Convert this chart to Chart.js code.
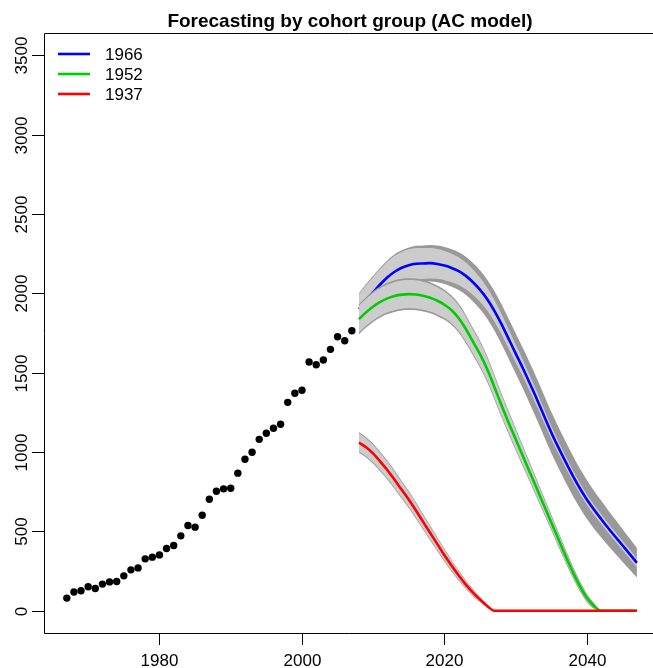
<!DOCTYPE html>
<html>
<head>
<meta charset="utf-8">
<script src="https://cdn.jsdelivr.net/npm/chart.js@4/dist/chart.umd.min.js"></script>
<style>
html,body{margin:0;padding:0;background:#fff;overflow:hidden;}
canvas{display:block;}
</style>
</head>
<body>
<canvas id="c" width="653" height="668"></canvas>
<script>
// ---------- data ----------
const obsYears = [1967,1968,1969,1970,1971,1972,1973,1974,1975,1976,1977,1978,1979,1980,1981,1982,1983,1984,1985,1986,1987,1988,1989,1990,1991,1992,1993,1994,1995,1996,1997,1998,1999,2000,2001,2002,2003,2004,2005,2006,2007];
const observed = [80,118,126,151,140,168,182,184,220,258,270,327,338,352,392,411,472,537,527,602,703,753,768,772,867,955,999,1080,1118,1150,1175,1313,1370,1389,1567,1550,1580,1647,1726,1701,1764];

const fcYears = [2008,2009,2010,2011,2012,2013,2014,2015,2016,2017,2018,2019,2020,2021,2022,2023,2024,2025,2026,2027,2028,2029,2030,2031,2032,2033,2034,2035,2036,2037,2038,2039,2040,2041,2042,2043,2044,2045,2046,2047];

// cohort 1966
const c1966 = [1900,1957,2007,2057,2101,2136,2161,2177,2186,2188,2190,2185,2175,2160,2140,2110,2070,2022,1963,1890,1806,1713,1620,1528,1430,1330,1225,1122,1028,938,852,772,700,636,577,520,465,411,357,302];
const c1966OuterHi = [2000,2059,2111,2163,2209,2246,2272,2289,2299,2302,2305,2301,2292,2278,2259,2230,2191,2144,2086,2014,1931,1839,1747,1656,1559,1460,1355,1252,1157,1066,979,897,822,755,693,632,573,514,455,395];
const c1966OuterLo = [1800,1855,1903,1951,1993,2026,2050,2065,2073,2074,2075,2069,2058,2042,2021,1990,1949,1900,1840,1766,1681,1587,1493,1400,1301,1200,1095,992,899,810,725,647,578,517,461,408,357,308,259,209];
const c1966InnerHi = [1992,2051,2103,2155,2200,2236,2261,2277,2285,2286,2286,2279,2267,2250,2227,2194,2150,2098,2035,1958,1870,1773,1676,1580,1479,1376,1268,1163,1067,975,887,806,733,668,608,550,495,440,386,330];
const c1966InnerLo = [1808,1863,1911,1959,2002,2036,2061,2077,2087,2090,2094,2091,2083,2070,2053,2026,1990,1946,1891,1822,1742,1653,1564,1476,1381,1284,1182,1081,989,901,817,738,667,604,546,490,435,382,328,274];

// cohort 1952
const c1952 = [1837,1880,1917,1946,1968,1983,1992,1995,1993,1985,1972,1953,1928,1893,1843,1775,1695,1615,1522,1410,1295,1185,1080,975,870,765,660,555,450,345,245,155,80,30,0,0,0,0,0,0];
const c1952OuterHi = [1932,1976,2014,2044,2067,2083,2092,2095,2093,2084,2070,2050,2023,1986,1934,1864,1782,1700,1604,1489,1371,1258,1150,1041,932,823,714,605,496,387,282,187,106,48,0,0,0,0,0,0];
const c1952OuterLo = [1742,1784,1820,1848,1869,1883,1892,1895,1893,1886,1874,1856,1833,1800,1752,1686,1608,1530,1440,1331,1219,1112,1010,909,808,707,606,505,404,303,208,123,54,12,0,0,0,0,0,0];
const c1952InnerHi = [1921,1965,2003,2033,2056,2072,2081,2084,2082,2073,2059,2039,2012,1975,1923,1853,1771,1689,1593,1478,1360,1247,1139,1030,921,812,703,594,485,376,272,177,97,41,0,0,0,0,0,0];
const c1952InnerLo = [1753,1795,1831,1859,1880,1894,1903,1906,1904,1897,1885,1867,1844,1811,1763,1697,1619,1541,1451,1342,1230,1123,1021,920,819,718,617,516,415,314,218,133,63,19,0,0,0,0,0,0];

// cohort 1937
const c1937 = [1060,1030,990,940,885,825,762,700,632,560,490,420,350,285,222,165,115,70,30,0,0,0,0,0,0,0,0,0,0,0,0,0,0,0,0,0,0,0,0,0];
const c1937OuterHi = [1125,1094,1053,1002,945,883,818,754,684,610,537,464,391,322,255,193,138,87,40,0,0,0,0,0,0,0,0,0,0,0,0,0,0,0,0,0,0,0,0,0];
const c1937OuterLo = [995,966,927,878,825,767,706,646,580,510,443,376,309,248,189,137,92,53,20,0,0,0,0,0,0,0,0,0,0,0,0,0,0,0,0,0,0,0,0,0];
const c1937InnerHi = [1117,1086,1045,994,937,875,810,746,676,602,530,457,384,316,249,188,134,84,38,0,0,0,0,0,0,0,0,0,0,0,0,0,0,0,0,0,0,0,0,0];
const c1937InnerLo = [1003,974,935,886,833,775,714,654,588,518,450,383,316,254,195,142,96,56,22,0,0,0,0,0,0,0,0,0,0,0,0,0,0,0,0,0,0,0,0,0];

const legendLabels = ['1966','1952','1937'];
const xTicks = [1980,2000,2020,2040];
const yTicks = [0,500,1000,1500,2000,2500,3000,3500];
const titleText = 'Forecasting by cohort group (AC model)';

// ---------- styles ----------
const colBlue = '#0000ff', colGreen = '#00cd00', colRed = '#ff0000';
const bandOuter = '#999999', bandInner = '#cccccc';
const FONT = '"Liberation Sans", Arial, Helvetica, sans-serif';

const pts = (ys, vals) => ys.map((y, i) => ({x: y, y: vals[i]}));

const datasets = [];
let ord = 1000;
function addBand(lo, hi, color) {
  datasets.push({data: pts(fcYears, lo), borderWidth: 0, borderColor: 'rgba(0,0,0,0)', pointRadius: 0, fill: false, order: ord--, cubicInterpolationMode: 'monotone'});
  datasets.push({data: pts(fcYears, hi), borderWidth: 0, borderColor: 'rgba(0,0,0,0)', pointRadius: 0, fill: '-1', backgroundColor: color, order: ord--, cubicInterpolationMode: 'monotone'});
}
function addLine(vals, color) {
  datasets.push({data: pts(fcYears, vals), borderWidth: 2.6, borderColor: color, pointRadius: 0, fill: false, order: ord--, cubicInterpolationMode: 'monotone', borderCapStyle: 'butt'});
}
addBand(c1966OuterLo, c1966OuterHi, bandOuter);
addBand(c1966InnerLo, c1966InnerHi, bandInner);
addLine(c1966, colBlue);
addBand(c1952OuterLo, c1952OuterHi, bandOuter);
addBand(c1952InnerLo, c1952InnerHi, bandInner);
addLine(c1952, colGreen);
addBand(c1937OuterLo, c1937OuterHi, bandOuter);
addBand(c1937InnerLo, c1937InnerHi, bandInner);
addLine(c1937, colRed);
datasets.push({data: pts(obsYears, observed), showLine: false, pointRadius: 3.7, pointBackgroundColor: '#000', pointBorderColor: '#000', pointBorderWidth: 0, order: ord--});

const decor = {
  id: 'decor',
  afterDraw(chart) {
    const ctx = chart.ctx, a = chart.chartArea;
    const xs = chart.scales.x, ys = chart.scales.y;
    ctx.save();
    ctx.strokeStyle = '#000'; ctx.lineWidth = 1; ctx.fillStyle = '#000';
    // frame
    ctx.beginPath();
    ctx.moveTo(653 + 20, a.top + 0.5); ctx.lineTo(a.left + 0.5, a.top + 0.5);
    ctx.lineTo(a.left + 0.5, a.bottom + 0.5); ctx.lineTo(653 + 20, a.bottom + 0.5);
    ctx.stroke();
    const tl = 12;
    // x ticks
    ctx.font = '17px ' + FONT; ctx.textAlign = 'center'; ctx.textBaseline = 'alphabetic';
    xTicks.forEach(v => {
      const px = Math.round(xs.getPixelForValue(v)) + 0.5;
      ctx.beginPath(); ctx.moveTo(px, a.bottom); ctx.lineTo(px, a.bottom + tl); ctx.stroke();
      ctx.fillText(String(v), px, 666);
    });
    // y ticks
    yTicks.forEach(v => {
      const py = Math.round(ys.getPixelForValue(v)) + 0.5;
      ctx.beginPath(); ctx.moveTo(a.left - tl, py); ctx.lineTo(a.left, py); ctx.stroke();
      ctx.save(); ctx.translate(27, py); ctx.rotate(-Math.PI / 2);
      ctx.fillText(String(v), 0, 0); ctx.restore();
    });
    // title
    ctx.font = 'bold 19px ' + FONT; ctx.textAlign = 'center';
    ctx.fillText(titleText, 350, 27);
    // legend
    const lc = [colBlue, colGreen, colRed];
    ctx.font = '17px ' + FONT; ctx.textAlign = 'left'; ctx.textBaseline = 'middle';
    legendLabels.forEach((t, i) => {
      const y = 54 + i * 20;
      ctx.strokeStyle = lc[i]; ctx.lineWidth = 2.6;
      ctx.beginPath(); ctx.moveTo(58, y); ctx.lineTo(90, y); ctx.stroke();
      ctx.fillStyle = '#000'; ctx.fillText(t, 105, y + 1);
    });
    ctx.restore();
  }
};

new Chart(document.getElementById('c'), {
  type: 'line',
  data: {datasets},
  options: {
    responsive: false, animation: false, devicePixelRatio: 1,
    layout: {padding: {top: 33, left: 0, right: 0, bottom: 0}},
    plugins: {legend: {display: false}, tooltip: {enabled: false}, title: {display: false}},
    elements: {line: {tension: 0}},
    scales: {
      x: {type: 'linear', min: 1963.8, max: 2048.7, grid: {display: false}, border: {display: false}, ticks: {display: false},
          afterFit: s => { s.height = 35; }},
      y: {type: 'linear', min: -140, max: 3640, grid: {display: false}, border: {display: false}, ticks: {display: false},
          afterFit: s => { s.width = 44; }}
    }
  },
  plugins: [decor]
});
</script>
</body>
</html>
